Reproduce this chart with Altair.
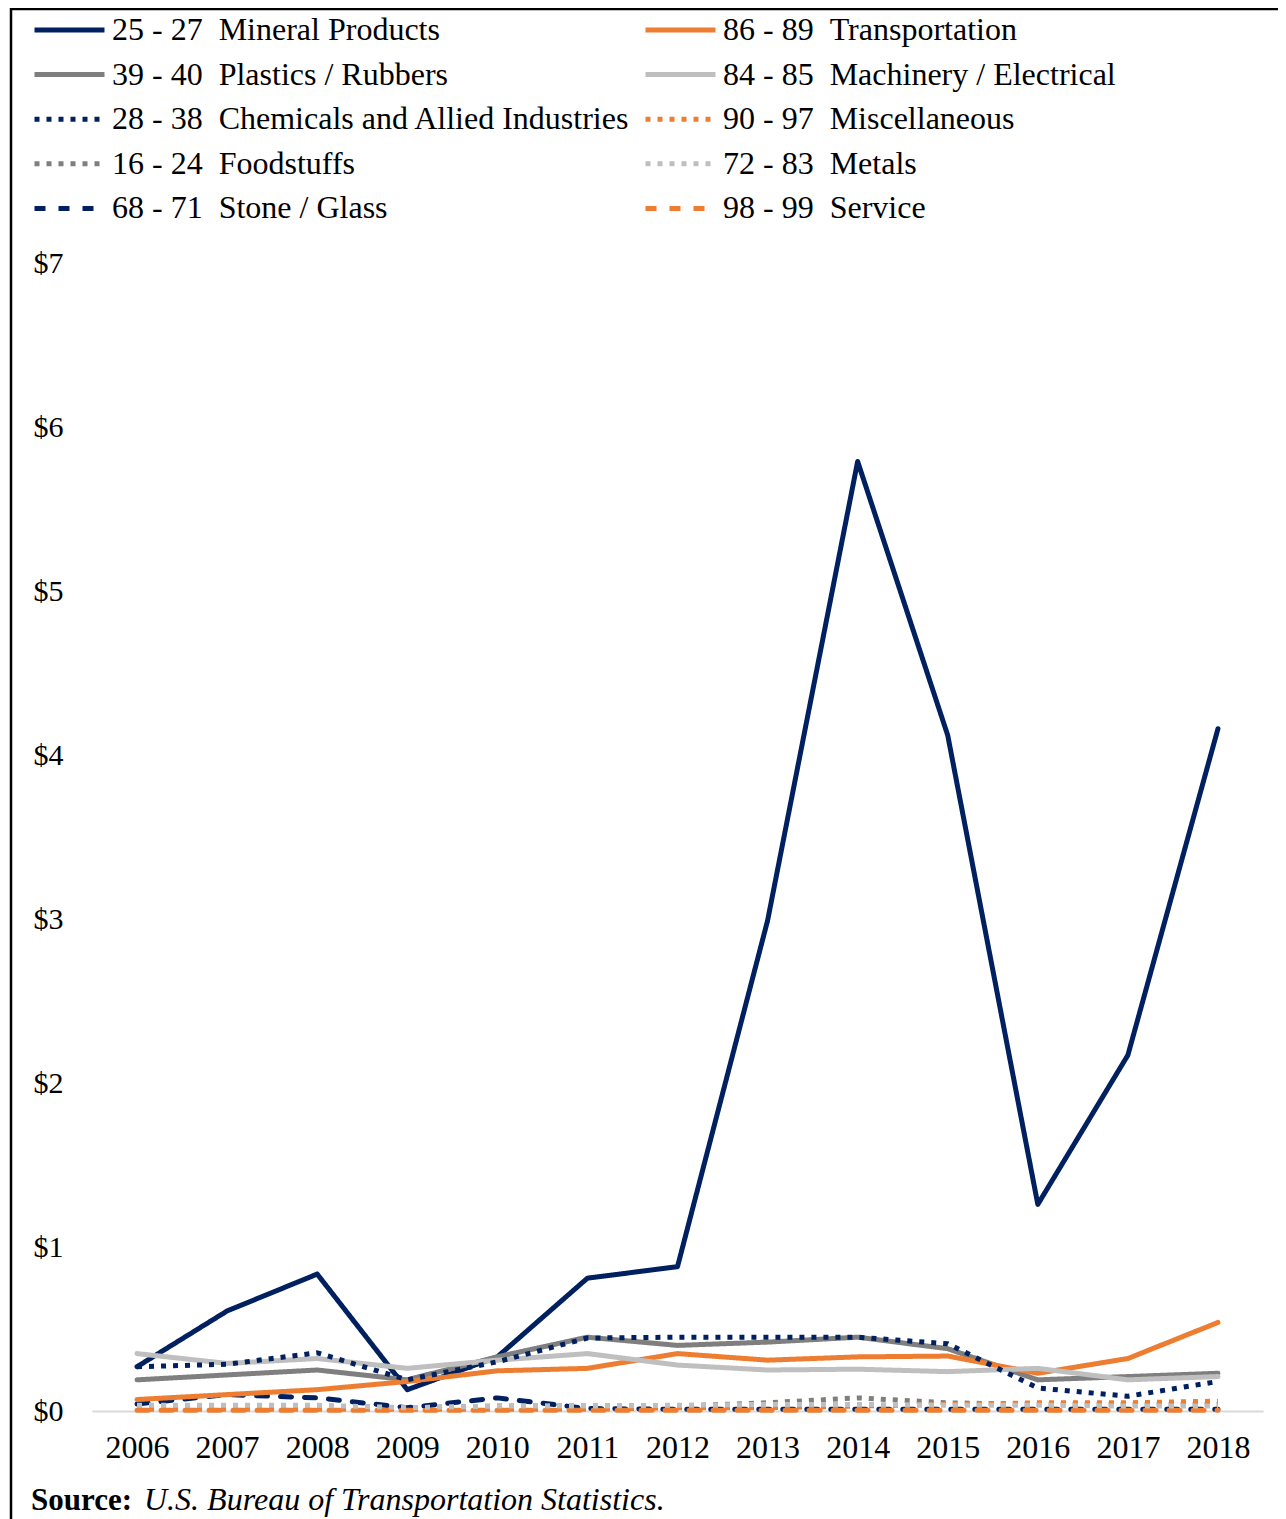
import altair as alt
import pandas as pd

years = [2006, 2007, 2008, 2009, 2010, 2011, 2012, 2013, 2014, 2015, 2016, 2017, 2018]

# legend order (filled column by column)
series_names = [
    "25 - 27 \u00a0Mineral Products",
    "39 - 40 \u00a0Plastics / Rubbers",
    "28 - 38 \u00a0Chemicals and Allied Industries",
    "16 - 24 \u00a0Foodstuffs",
    "68 - 71 \u00a0Stone / Glass",
    "86 - 89 \u00a0Transportation",
    "84 - 85 \u00a0Machinery / Electrical",
    "90 - 97 \u00a0Miscellaneous",
    "72 - 83 \u00a0Metals",
    "98 - 99 \u00a0Service",
]

mineral = [0.27, 0.61, 0.835, 0.13, 0.33, 0.81, 0.88, 2.99, 5.79, 4.12, 1.26, 2.17, 4.16]
plastics = [0.19, 0.22, 0.25, 0.19, 0.33, 0.45, 0.40, 0.42, 0.45, 0.38, 0.19, 0.21, 0.23]
chemicals = [0.27, 0.285, 0.355, 0.19, 0.30, 0.445, 0.45, 0.45, 0.45, 0.41, 0.14, 0.09, 0.18]
food = [0.03, 0.03, 0.03, 0.02, 0.03, 0.03, 0.03, 0.05, 0.08, 0.05, 0.04, 0.04, 0.04]
stone = [0.043, 0.10, 0.08, 0.02, 0.08, 0.015, 0.01, 0.01, 0.01, 0.01, 0.01, 0.01, 0.01]
transport = [0.07, 0.10, 0.13, 0.18, 0.245, 0.26, 0.35, 0.31, 0.33, 0.335, 0.23, 0.32, 0.54]
machinery = [0.35, 0.29, 0.32, 0.26, 0.31, 0.35, 0.28, 0.25, 0.255, 0.24, 0.26, 0.19, 0.21]
misc = [0.01, 0.01, 0.01, 0.01, 0.01, 0.01, 0.02, 0.02, 0.03, 0.04, 0.05, 0.05, 0.06]
metals = [0.035, 0.035, 0.035, 0.02, 0.03, 0.03, 0.035, 0.04, 0.04, 0.035, 0.035, 0.03, 0.03]
service = [0.005, 0.005, 0.005, 0.005, 0.005, 0.005, 0.005, 0.005, 0.005, 0.005, 0.005, 0.005, 0.005]

series_values = [mineral, plastics, chemicals, food, stone, transport, machinery, misc, metals, service]

NAVY, ORANGE, DGRAY, LGRAY = "#002060", "#ED7D31", "#7F7F7F", "#BFBFBF"
series_colors = [NAVY, DGRAY, NAVY, DGRAY, NAVY, ORANGE, LGRAY, ORANGE, LGRAY, ORANGE]
SOLID = [1, 0]
DOT = [5, 7]
DASH = [11, 13]
series_dashes = [SOLID, SOLID, DOT, DOT, DASH, SOLID, SOLID, DOT, DOT, DASH]
series_style = ["solid", "solid", "dot", "dot", "dash", "solid", "solid", "dot", "dot", "dash"]
draw_rank = [10, 5, 7, 3, 2, 6, 4, 1, 0, 2.5]

y_ticks = [0, 1, 2, 3, 4, 5, 6, 7]
source_bold = "Source:"
source_italic = "U.S. Bureau of Transportation Statistics."

rows = []
for name, vals, st, rk in zip(series_names, series_values, series_style, draw_rank):
    for yr, v in zip(years, vals):
        rows.append({"series": name, "year": yr, "value": v, "style": st, "rank": rk})
df = pd.DataFrame(rows)

FONT = "Liberation Serif"
W, H = 1171, 1148

leg = dict(title=None, orient="none", legendX=-60, legendY=-248,
           columns=2, symbolType="stroke", symbolSize=4900,
           symbolStrokeWidth=5, labelFont=FONT, labelFontSize=32,
           labelColor="black", labelOffset=5, rowPadding=12.6,
           columnPadding=12, clipHeight=30, padding=0, labelLimit=0)

x_enc = alt.X("year:O", scale=alt.Scale(type="point", padding=0.5),
              axis=alt.Axis(title=None, labelAngle=0, domain=True, domainColor="#D9D9D9",
                            domainWidth=2, ticks=False, grid=False, labelFont=FONT,
                            labelFontSize=32, labelColor="black", labelPadding=21))
y_enc = alt.Y("value:Q", scale=alt.Scale(domain=[0, 7], nice=False, zero=True),
              axis=alt.Axis(title=None, values=y_ticks, labelExpr="'$' + datum.value",
                            domain=False, ticks=False, tickSize=0, grid=False,
                            labelAlign="left", labelPadding=59, labelFont=FONT,
                            labelFontSize=30, labelColor="black", labelBaseline="middle"))
c_enc = alt.Color("series:N", scale=alt.Scale(domain=series_names, range=series_colors),
                  legend=alt.Legend(**leg))
d_enc = alt.StrokeDash("series:N", scale=alt.Scale(domain=series_names, range=series_dashes),
                       legend=alt.Legend(**leg))

base = alt.Chart(df).encode(x=x_enc, y=y_enc, color=c_enc, strokeDash=d_enc)

solid_lines = base.transform_filter("datum.style == 'solid'").mark_line(
    strokeWidth=5, strokeCap="round", strokeJoin="round").encode(order=alt.Order("rank:Q"))
dash_lines = base.transform_filter("datum.style == 'dash'").mark_line(
    strokeWidth=5, strokeCap="round", strokeJoin="round")
dot_lines = base.transform_filter("datum.style == 'dot'").mark_line(
    strokeWidth=5, strokeCap="butt", strokeJoin="round")

frame_df = pd.DataFrame({"k": [0]})
left_rule = alt.Chart(frame_df).mark_rule(color="black", strokeWidth=2.5).encode(
    x=alt.value(-81), y=alt.value(-255), y2=alt.value(H + 120))
top_rule = alt.Chart(frame_df).mark_rule(color="black", strokeWidth=2.5).encode(
    y=alt.value(-254), x=alt.value(-81), x2=alt.value(W + 30))

src1 = alt.Chart(pd.DataFrame({"t": [source_bold]})).mark_text(
    font=FONT, fontSize=31, fontWeight="bold", align="left", baseline="alphabetic", color="black"
).encode(text="t:N", x=alt.value(-61), y=alt.value(1247))
src2 = alt.Chart(pd.DataFrame({"t": [source_italic]})).mark_text(
    font=FONT, fontSize=32, fontStyle="italic", align="left", baseline="alphabetic", color="black"
).encode(text="t:N", x=alt.value(52), y=alt.value(1247))

chart = alt.layer(dash_lines, solid_lines, dot_lines, left_rule, top_rule, src1, src2).properties(
    width=W, height=H,
    autosize=alt.AutoSizeParams(type="none"),
    padding={"left": 84, "top": 255, "right": 15, "bottom": 108},
).configure(background="white", view=alt.ViewConfig(stroke="transparent", strokeWidth=0))

chart.save("out.html", embed_options={"renderer": "svg", "actions": False})
